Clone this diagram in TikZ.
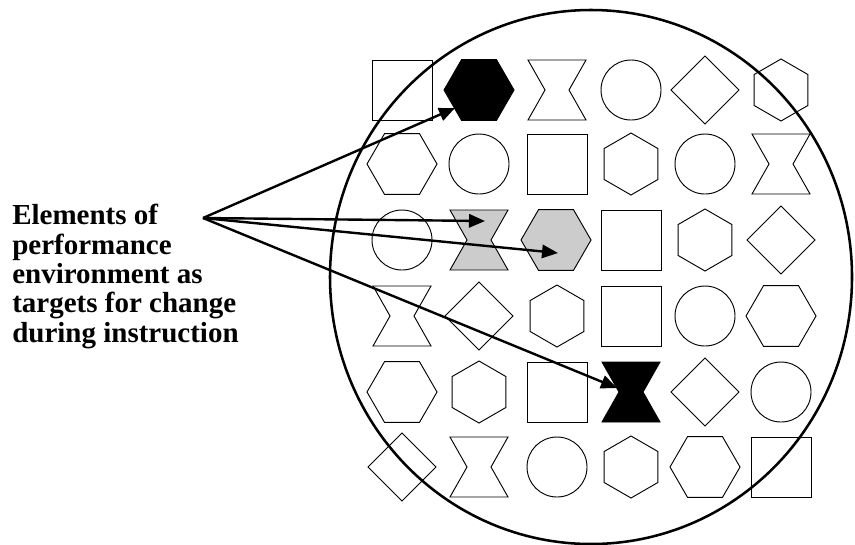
\documentclass[tikz,border=0pt]{standalone}
\usepackage{fontspec}
\setmainfont{Liberation Serif}
\usetikzlibrary{arrows.meta,shapes.geometric}

\tikzset{
  hglass/.pic={
    \coordinate (-c) at (0,0);
    \draw[shp,pic actions] (-29,-30) -- (29,-30) -- (12,0) -- (29,30)
      -- (-29,30) -- (-12,0) -- cycle;
  }
}

\begin{document}
\begin{tikzpicture}[
  x=.75pt,y=-.75pt,
  shp/.style={draw=black,line width=.7pt,inner sep=0pt,outer sep=0pt},
  sqr/.style={shp,rectangle,minimum size=45pt},
  circ/.style={shp,circle,minimum size=45pt},
  hexf/.style={shp,regular polygon,regular polygon sides=6,minimum size=52.5pt},
  hexp/.style={hexf,shape border rotate=30,minimum size=46.5pt},
  dia/.style={shp,diamond,minimum size=51pt},
  dotfill/.style={fill=black!20},
  arr/.style={-{Triangle[length=12pt,width=10pt]},line width=1.8pt},
  lbl/.style={font=\bfseries\fontsize{21.75}{22}\selectfont,align=left,inner sep=0pt}
]
  \useasboundingbox (0,0) rectangle (855,544);
  % row 1
  \node[sqr] (r1c1) at (402,90) {};
  \node[hexf,fill=black] (r1c2) at (479,90) {};
  \pic (r1c3) at (557,90) {hglass};
  \node[circ] (r1c4) at (631,90) {};
  \node[dia] (r1c5) at (705,90) {};
  \node[hexp] (r1c6) at (781,90) {};
  % row 2
  \node[hexf] (r2c1) at (402,164) {};
  \node[circ] (r2c2) at (479,164) {};
  \node[sqr] (r2c3) at (557,164) {};
  \node[hexp] (r2c4) at (631,164) {};
  \node[circ] (r2c5) at (705,164) {};
  \pic (r2c6) at (781,164) {hglass};
  % row 3
  \node[circ] (r3c1) at (402,240) {};
  \pic[dotfill] (r3c2) at (479,240) {hglass};
  \node[hexf,dotfill] (r3c3) at (556,240) {};
  \node[sqr] (r3c4) at (631,240) {};
  \node[hexp] (r3c5) at (705,240) {};
  \node[dia] (r3c6) at (781,240) {};
  % row 4
  \pic (r4c1) at (402,316) {hglass};
  \node[dia] (r4c2) at (479,316) {};
  \node[hexp] (r4c3) at (557,316) {};
  \node[sqr] (r4c4) at (631,316) {};
  \node[circ] (r4c5) at (705,316) {};
  \node[hexf] (r4c6) at (781,316) {};
  % row 5
  \node[hexf] (r5c1) at (402,392) {};
  \node[hexp] (r5c2) at (479,392) {};
  \node[sqr] (r5c3) at (557,392) {};
  \pic[fill=black] (r5c4) at (631,392) {hglass};
  \node[dia] (r5c5) at (705,392) {};
  \node[circ] (r5c6) at (781,392) {};
  % row 6
  \node[dia] (r6c1) at (402,467) {};
  \pic (r6c2) at (479,467) {hglass};
  \node[circ] (r6c3) at (557,467) {};
  \node[hexp] (r6c4) at (631,467) {};
  \node[hexf] (r6c5) at (705,467) {};
  \node[sqr] (r6c6) at (781,467) {};

  \draw[line width=1.9pt] (591,277) ellipse [x radius=261,y radius=267];

  \node[lbl,anchor=north west] (caption) at (12,204)
    {Elements of\\performance\\environment as\\targets for change\\during instruction};
  \coordinate (src) at (203,218);
  \draw[arr] (src) -- ([shift={(-24,18)}]r1c2.center);
  \draw[arr] (src) -- ([shift={(6,-19)}]r3c2-c);
  \draw[arr] (src) -- ([shift={(2,13)}]r3c3.center);
  \draw[arr] (src) -- ([shift={(-14,-4)}]r5c4-c);
\end{tikzpicture}
\end{document}
